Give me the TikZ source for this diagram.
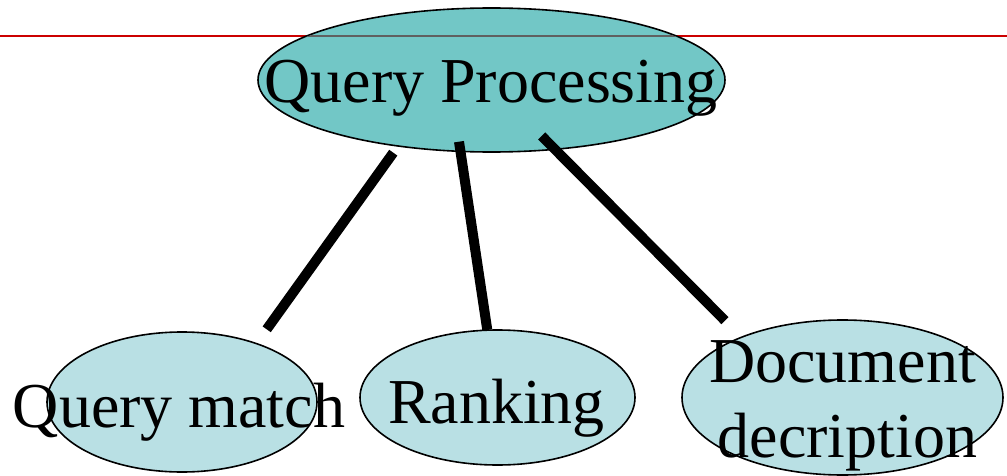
\documentclass[tikz,border=0pt]{standalone}
\usepackage{fontspec}
\setmainfont{Liberation Serif}
\usetikzlibrary{shapes.geometric}
\definecolor{topfill}{RGB}{114,199,198}
\definecolor{subfill}{RGB}{185,224,228}
\definecolor{rule}{RGB}{204,0,0}
\definecolor{ruleshade}{RGB}{96,96,96}
\tikzset{
  blob/.style={ellipse, draw=black, line width=1.6pt, inner sep=0pt},
  topblob/.style={blob, fill=topfill},
  subblob/.style={blob, fill=subfill},
  label/.style={anchor=base, inner sep=0pt, font=\fontsize{64}{75}\selectfont},
  link/.style={line width=10pt, line cap=butt},
}
\begin{document}
\begin{tikzpicture}[x=1pt, y=1pt]
  \useasboundingbox (0,0) rectangle (1007,475);

  % header rule across the page
  \draw[rule, line width=2pt] (0,439) -- (1007,439);

  % ellipses
  \node[topblob, minimum width=467pt, minimum height=144pt] (qp) at (491.5,395) {};
  \node[subblob, minimum width=270pt, minimum height=140pt] (qm) at (182,73) {};
  \node[subblob, minimum width=275pt, minimum height=135pt] (rk) at (497.5,77.5) {};
  \node[subblob, minimum width=321pt, minimum height=155pt] (dd) at (842.5,77.5) {};

  % the rule shows through the top ellipse in grey
  \begin{scope}
    \clip (491.5,395) ellipse (232.7pt and 71.2pt);
    \draw[ruleshade, line width=2pt] (0,439) -- (1007,439);
  \end{scope}

  % connector ends
  \coordinate (a1) at (393.3,322.3);
  \coordinate (b1) at (266.7,145.7);
  \coordinate (a2) at (459,333.3);
  \coordinate (b2) at (487.3,145);
  \coordinate (a3) at (541.7,339);
  \coordinate (b3) at (725,154.3);

  \draw[link] (a1) -- (b1);
  \draw[link] (a2) -- (b2);
  \draw[link] (a3) -- (b3);

  % labels
  \node[label] (tqp) at (491,372) {Query Processing};
  \node[label] (tqm) at (179,48) {Query match};
  \node[label] (trk) at (496.5,52) {Ranking};
  \node[label] (td1) at (842.5,93) {Document};
  \node[label] (td2) at (847.5,18) {decription};
\end{tikzpicture}
\end{document}
